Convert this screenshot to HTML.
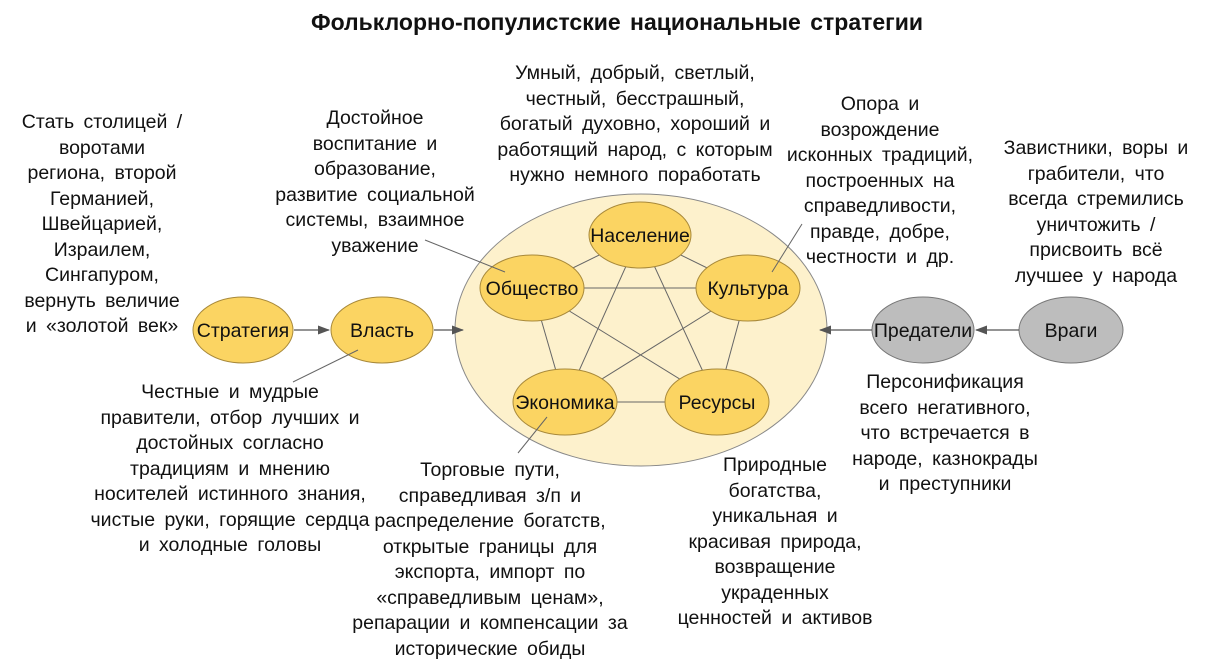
<!DOCTYPE html>
<html><head><meta charset="utf-8"><style>
body{margin:0;background:#fff;}
#w{position:relative;width:1212px;height:668px;overflow:hidden;font-family:"Liberation Sans",Arial,sans-serif;color:#111;}
.t{position:absolute;text-align:center;font-size:19.5px;line-height:25.5px;white-space:nowrap;word-spacing:4px;}
svg{position:absolute;left:0;top:0;}
</style></head><body><div id="w">
<svg width="1212" height="668" viewBox="0 0 1212 668">
<defs><marker id="a" markerWidth="12" markerHeight="9" refX="11" refY="4.5" orient="auto" markerUnits="userSpaceOnUse"><path d="M0,0 L12,4.5 L0,9 z" fill="#555"/></marker></defs>
<ellipse cx="641" cy="330" rx="186" ry="136" fill="#fdf1cc" stroke="#888" stroke-width="1"/>
<g stroke="#666" stroke-width="1">
<line x1="640" y1="235" x2="532" y2="288"/><line x1="640" y1="235" x2="748" y2="288"/>
<line x1="640" y1="235" x2="565" y2="402"/><line x1="640" y1="235" x2="717" y2="402"/>
<line x1="532" y1="288" x2="748" y2="288"/><line x1="532" y1="288" x2="565" y2="402"/>
<line x1="532" y1="288" x2="717" y2="402"/><line x1="748" y1="288" x2="565" y2="402"/>
<line x1="748" y1="288" x2="717" y2="402"/><line x1="565" y1="402" x2="717" y2="402"/>
</g>
<g fill="#fbd462" stroke="#a8893a" stroke-width="1">
<ellipse cx="640" cy="235" rx="51" ry="33"/>
<ellipse cx="532" cy="288" rx="52" ry="33"/>
<ellipse cx="748" cy="288" rx="52" ry="33"/>
<ellipse cx="565" cy="402" rx="52" ry="33"/>
<ellipse cx="717" cy="402" rx="52" ry="33"/>
<ellipse cx="243" cy="330" rx="50" ry="33"/>
<ellipse cx="382" cy="330" rx="51" ry="33"/>
</g>
<g fill="#bdbdbd" stroke="#777" stroke-width="1">
<ellipse cx="923" cy="330" rx="51" ry="33"/>
<ellipse cx="1071" cy="330" rx="52" ry="33"/>
</g>
<g stroke="#555" stroke-width="1.3" fill="none">
<line x1="294" y1="330" x2="329" y2="330" marker-end="url(#a)"/>
<line x1="434" y1="330" x2="463" y2="330" marker-end="url(#a)"/>
<line x1="872" y1="330" x2="820" y2="330" marker-end="url(#a)"/>
<line x1="1019" y1="330" x2="976" y2="330" marker-end="url(#a)"/>
</g>
<g stroke="#666" stroke-width="1">
<line x1="505" y1="272" x2="425" y2="240"/>
<line x1="772" y1="272" x2="802" y2="224"/>
<line x1="547" y1="417" x2="518" y2="453"/>
<line x1="358" y1="350" x2="293" y2="382"/>
</g>
<g font-family="Liberation Sans, Arial, sans-serif" font-size="19.5" text-anchor="middle" fill="#111">
<text x="640" y="242">Население</text>
<text x="532" y="295">Общество</text>
<text x="748" y="295">Культура</text>
<text x="565" y="409">Экономика</text>
<text x="717" y="409">Ресурсы</text>
<text x="243" y="337">Стратегия</text>
<text x="382" y="337">Власть</text>
<text x="923" y="337">Предатели</text>
<text x="1071" y="337">Враги</text>
</g>
</svg>
<div class="t" style="left:0;width:1234px;top:10px;font-weight:bold;font-size:23px;word-spacing:3px;">Фольклорно-популистские национальные стратегии</div>
<div class="t" style="left:0;width:204px;top:110px;">Стать столицей /<br>воротами<br>региона, второй<br>Германией,<br>Швейцарией,<br>Израилем,<br>Сингапуром,<br>вернуть величие<br>и «золотой век»</div>
<div class="t" style="left:255px;width:240px;top:106px;">Достойное<br>воспитание и<br>образование,<br>развитие социальной<br>системы, взаимное<br>уважение</div>
<div class="t" style="left:480px;width:310px;top:61px;">Умный, добрый, светлый,<br>честный, бесстрашный,<br>богатый духовно, хороший и<br>работящий народ, с которым<br>нужно немного поработать</div>
<div class="t" style="left:775px;width:210px;top:92px;">Опора и<br>возрождение<br>исконных традиций,<br>построенных на<br>справедливости,<br>правде, добре,<br>честности и др.</div>
<div class="t" style="left:988px;width:216px;top:136px;">Завистники, воры и<br>грабители, что<br>всегда стремились<br>уничтожить /<br>присвоить всё<br>лучшее у народа</div>
<div class="t" style="left:90px;width:280px;top:380px;">Честные и мудрые<br>правители, отбор лучших и<br>достойных согласно<br>традициям и мнению<br>носителей истинного знания,<br>чистые руки, горящие сердца<br>и холодные головы</div>
<div class="t" style="left:340px;width:300px;top:458px;">Торговые пути,<br>справедливая з/п и<br>распределение богатств,<br>открытые границы для<br>экспорта, импорт по<br>«справедливым ценам»,<br>репарации и компенсации за<br>исторические обиды</div>
<div class="t" style="left:660px;width:230px;top:453px;">Природные<br>богатства,<br>уникальная и<br>красивая природа,<br>возвращение<br>украденных<br>ценностей и активов</div>
<div class="t" style="left:835px;width:220px;top:370px;">Персонификация<br>всего негативного,<br>что встречается в<br>народе, казнокрады<br>и преступники</div>
</div></body></html>
